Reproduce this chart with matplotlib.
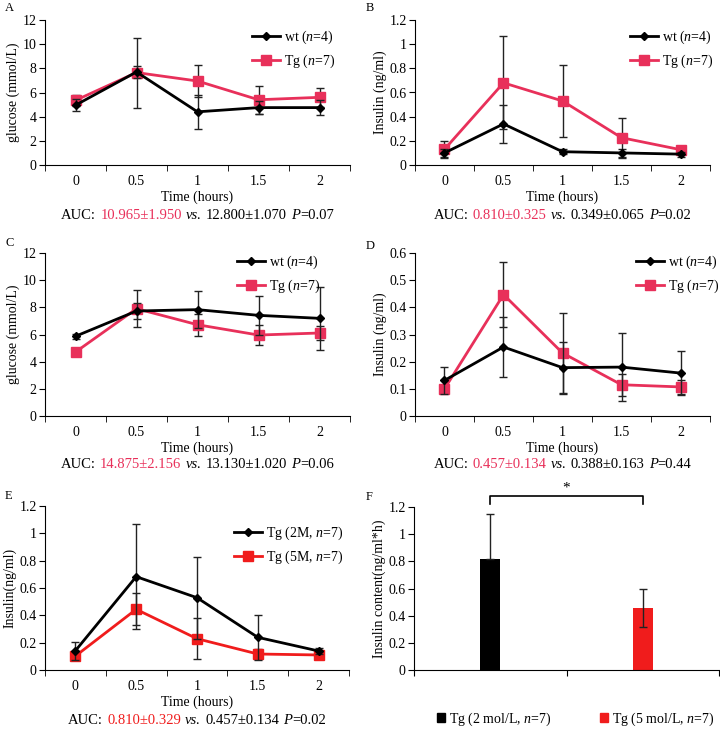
import numpy as np
import matplotlib.pyplot as plt
from matplotlib.lines import Line2D
from matplotlib.patches import Patch
from matplotlib.offsetbox import TextArea, HPacker, AnchoredOffsetbox

plt.rcParams['font.family'] = ['Liberation Serif', 'DejaVu Serif']
plt.rcParams['mathtext.fontset'] = 'custom'
plt.rcParams['mathtext.rm'] = 'Liberation Serif'
plt.rcParams['mathtext.it'] = 'Liberation Serif:italic'
plt.rcParams['font.size'] = 10

PINK = "#e8305a"
RED = "#f01c1c"

times = [0, 0.5, 1, 1.5, 2]
time_labels = ["0", "0.5", "1", "1.5", "2"]

# Panel A: glucose
a_wt = [4.95, 7.7, 4.4, 4.75, 4.75]
a_wt_err = [0.5, 0.5, 1.4, 0.55, 0.6]
a_tg = [5.35, 7.65, 6.95, 5.4, 5.6]
a_tg_err = [0.45, 2.9, 1.35, 1.15, 0.8]

# Panel B: insulin
b_wt = [0.1, 0.34, 0.11, 0.1, 0.09]
b_wt_err = [0.03, 0.16, 0.02, 0.035, 0.02]
b_tg = [0.13, 0.68, 0.53, 0.226, 0.127]
b_tg_err = [0.07, 0.385, 0.3, 0.165, 0.02]

# Panel C: glucose
c_wt = [5.87, 7.73, 7.83, 7.41, 7.19]
c_wt_err = [0.2, 0.6, 1.37, 1.42, 2.3]
c_tg = [4.71, 7.9, 6.72, 5.96, 6.11]
c_tg_err = [0.3, 1.35, 0.8, 0.76, 0.5]

# Panel D: insulin
d_wt = [0.131, 0.254, 0.178, 0.18, 0.158]
d_wt_err = [0.05, 0.11, 0.096, 0.125, 0.08]
d_tg = [0.1, 0.447, 0.232, 0.115, 0.107]
d_tg_err = [0.01, 0.12, 0.148, 0.04, 0.025]

# Panel E: insulin, 2M vs 5M
e_2m = [0.141, 0.683, 0.529, 0.239, 0.139]
e_2m_err = [0.065, 0.383, 0.3, 0.163, 0.02]
e_5m = [0.102, 0.444, 0.229, 0.117, 0.11]
e_5m_err = [0.01, 0.117, 0.15, 0.04, 0.01]

# Panel F: AUC bars
f_labels = ["Tg (2 mol/L, $n$=7)", "Tg (5 mol/L, $n$=7)"]
f_vals = [0.815, 0.46]
f_errs = [0.335, 0.14]

W, H = 720, 732
fig = plt.figure(figsize=(7.2, 7.32), dpi=100)


def px_axes(l, t, r, b):
    return fig.add_axes([l / W, 1 - b / H, (r - l) / W, (b - t) / H])


def style_axes(ax, ymax, ystep, ylabel):
    for s in ["top", "right"]:
        ax.spines[s].set_visible(False)
    ax.set_ylim(0, ymax)
    yt = np.arange(0, ymax + ystep / 2, ystep)
    ax.set_yticks(yt)
    ax.set_yticklabels([f"{v:g}" for v in yt])
    ax.tick_params(axis="y", direction="out", length=4, pad=2)
    ax.set_ylabel(ylabel, labelpad=2)


def line_panel(ax, s1, e1, s2, e2, c2, lab1, lab2, ymax, ystep, ylabel, leg_anchor):
    ax.errorbar(times, s1, yerr=e1, color="black", ecolor="#222222", elinewidth=1,
                capsize=3, capthick=1, lw=2, marker="D", ms=4, label=lab1, zorder=3)
    ax.errorbar(times, s2, yerr=e2, color=c2, ecolor="#222222", elinewidth=1,
                capsize=3, capthick=1, lw=2, marker="s", ms=7, mfc=c2, mec=c2,
                label=lab2, zorder=2)
    ax.set_xlim(-0.25, 2.25)
    ax.set_xticks(times)
    ax.set_xticklabels(time_labels)
    ax.set_xticks(np.arange(-0.25, 2.3, 0.5), minor=True)
    ax.tick_params(axis="x", which="major", length=0, pad=7)
    ax.tick_params(axis="x", which="minor", direction="out", length=4)
    ax.set_xlabel("Time (hours)", labelpad=2)
    style_axes(ax, ymax, ystep, ylabel)
    h = [Line2D([], [], color="black", lw=2, marker="D", ms=4),
         Line2D([], [], color=c2, lw=2, marker="s", ms=7)]
    ax.legend(h, [lab1, lab2], loc="upper right", bbox_to_anchor=leg_anchor,
              frameon=False, handlelength=2.0, handletextpad=0.3, labelspacing=0.5,
              borderaxespad=0, fontsize=10)


def auc_text(ax, red_part, mid, pval, color, y):
    tp = dict(color="black", fontsize=10.5)
    p_box = HPacker(children=[TextArea("P", textprops=dict(tp, fontstyle="italic")),
                              TextArea("=" + pval, textprops=tp)],
                    align="baseline", pad=0, sep=0)
    parts = [TextArea("AUC:", textprops=tp),
             TextArea(red_part, textprops=dict(tp, color=color)),
             TextArea("vs.", textprops=dict(tp, fontstyle="italic")),
             TextArea(mid, textprops=tp),
             p_box]
    box = HPacker(children=parts, align="baseline", pad=0, sep=3)
    anc = AnchoredOffsetbox(loc="center", child=box, frameon=False, pad=0,
                            bbox_to_anchor=(0.5, y), bbox_transform=ax.transAxes,
                            borderpad=0)
    ax.add_artist(anc)


axA = px_axes(45, 20, 350, 165)
line_panel(axA, a_wt, a_wt_err, a_tg, a_tg_err, PINK, "wt ($n$=4)", "Tg ($n$=7)",
           12, 2, "glucose (mmol/L)", (0.97, 0.98))
auc_text(axA, "10.965\u00b11.950", "12.800\u00b11.070", "0.07", PINK, -0.35)

axB = px_axes(415, 20, 710, 165)
line_panel(axB, b_wt, b_wt_err, b_tg, b_tg_err, PINK, "wt ($n$=4)", "Tg ($n$=7)",
           1.2, 0.2, "Insulin (ng/ml)", (1.03, 0.98))
auc_text(axB, "0.810\u00b10.325", "0.349\u00b10.065", "0.02", PINK, -0.35)

axC = px_axes(45, 253, 350, 416)
line_panel(axC, c_wt, c_wt_err, c_tg, c_tg_err, PINK, "wt ($n$=4)", "Tg ($n$=7)",
           12, 2, "glucose (mmol/L)", (0.92, 1.03))
auc_text(axC, "14.875\u00b12.156", "13.130\u00b11.020", "0.06", PINK, -0.30)

axD = px_axes(415, 253, 710, 416)
line_panel(axD, d_wt, d_wt_err, d_tg, d_tg_err, PINK, "wt ($n$=4)", "Tg ($n$=7)",
           0.6, 0.1, "Insulin (ng/ml)", (1.05, 1.03))
auc_text(axD, "0.457\u00b10.134", "0.388\u00b10.163", "0.44", PINK, -0.30)

axE = px_axes(45, 506, 349, 670)
line_panel(axE, e_2m, e_2m_err, e_5m, e_5m_err, RED, "Tg (2M, $n$=7)", "Tg (5M, $n$=7)",
           1.2, 0.2, "Insulin(ng/ml)", (1.0, 0.92))
auc_text(axE, "0.810\u00b10.329", "0.457\u00b10.134", "0.02", RED, -0.31)

# Panel F
axF = px_axes(414, 507, 719, 670)
xs = [0, 1]
axF.bar(xs, f_vals, width=0.13, color=["black", RED], zorder=2)
axF.errorbar(xs, f_vals, yerr=[[0, f_errs[1]], f_errs], fmt="none", ecolor="#222222",
             elinewidth=1, capsize=3, capthick=1, zorder=3)
axF.set_xlim(-0.5, 1.5)
axF.set_xticks([-0.5, 0.5, 1.5])
axF.set_xticklabels([])
axF.tick_params(axis="x", direction="out", length=4)
style_axes(axF, 1.2, 0.2, "Insulin content(ng/ml*h)")
axF.plot([0, 0, 1, 1], [1.222, 1.28, 1.28, 1.222], color="black", lw=1.2, clip_on=False)
axF.text(0.5, 1.29, "*", ha="center", va="bottom", fontsize=11)
hF = [Patch(color="black"), Patch(color=RED)]
axF.legend(hF, f_labels, loc="center", bbox_to_anchor=(0.53, -0.3), ncol=2, frameon=False,
           handlelength=0.55, handleheight=0.7, handletextpad=0.3, columnspacing=3.5,
           borderaxespad=0, fontsize=10)

for lab, x, y in [("A", 5, 8), ("B", 366, 8), ("C", 5, 243), ("D", 366, 246),
                  ("E", 5, 496), ("F", 366, 497)]:
    fig.text(x / W, 1 - y / H, lab, ha="left", va="center", fontsize=9)

fig.savefig("out.png", dpi=100)
